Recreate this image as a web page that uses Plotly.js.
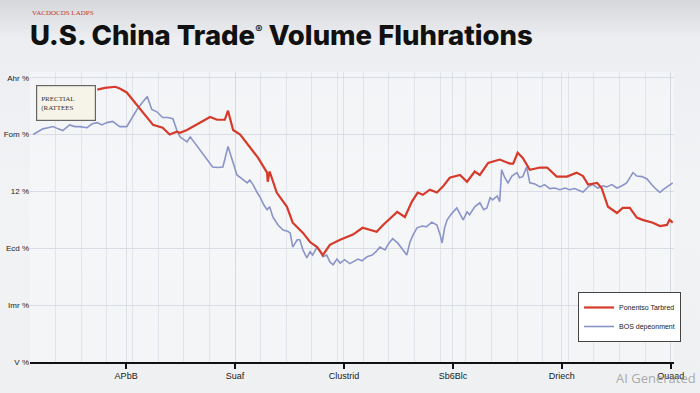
<!DOCTYPE html>
<html><head><meta charset="utf-8">
<script src="https://cdn.plot.ly/plotly-3.0.1.min.js"></script>
<style>
html,body{margin:0;padding:0;}
body{width:700px;height:393px;background:linear-gradient(180deg,#d5d7da 0%,#eceef1 10%,#f2f3f5 50%,#eef0f2 100%);overflow:hidden;}
#chart{width:700px;height:393px;}
</style></head><body><div id="chart"></div>
<script>
const tickVals = [15, 32, 49, 66, 83, 100];
const tickText = ["APbB", "Suaf", "Clustrid", "Sb6Blc", "Driech", "Ouaad"];
const yTickVals = [0, 10, 20, 30, 40, 50];
const yTickText = ["V %", "Imr %", "Ecd %", "12 %", "Fom %", "Ahr %"];

const redX = [10.5,11.7,13.3,14.0,15.1,16.4,17.9,19.2,20.7,21.8,22.9,23.4,24.5,26.5,28.1,29.2,30.4,30.9,31.7,32.8,34.3,35.6,37.0,37.1,37.4,38.5,40.1,41.0,42.6,43.7,44.8,45.7,46.8,48.4,50.4,51.9,54.1,55.1,57.3,58.5,59.6,60.5,61.3,62.4,63.5,64.4,65.5,67.1,68.2,69.4,70.2,71.5,73.3,74.9,75.4,76.1,76.9,78.0,79.6,80.7,82.2,83.8,85.3,86.3,87.1,88.5,89.2,90.2,91.6,92.5,93.6,94.7,95.6,97.2,98.3,99.4,99.8,100.3];
const redY = [47.9,48.2,48.4,48.1,47.4,45.6,43.5,41.7,41.2,40.0,40.5,40.3,40.8,42.1,43.1,42.6,42.6,44.2,40.8,40.0,37.7,35.9,33.3,31.7,33.5,29.8,27.3,24.5,22.7,21.1,20.2,18.8,20.6,21.5,22.4,23.6,22.9,24.1,26.4,25.5,28.2,29.8,29.4,30.3,29.8,30.8,32.4,32.9,31.7,33.5,32.9,35.0,35.6,34.9,34.9,36.8,35.9,33.8,34.2,34.2,32.6,32.6,33.3,32.7,31.2,31.5,30.6,27.3,26.2,27.1,27.1,25.4,25.0,24.5,23.9,24.1,25.0,24.5];

const blueX = [0.5,1.2,2.0,2.8,3.6,4.4,5.1,6.2,7.0,7.8,8.9,9.7,10.5,11.2,12.0,12.9,14.0,15.1,15.9,16.7,17.5,18.3,19.0,19.8,20.7,21.5,22.3,22.9,23.4,24.5,25.0,26.1,27.0,27.8,28.5,29.3,30.1,30.9,31.5,32.3,33.1,33.9,34.3,34.8,35.4,35.9,36.5,37.0,37.4,37.9,38.7,39.5,40.2,40.6,41.0,41.7,42.1,42.6,43.2,43.7,44.1,44.8,45.2,45.7,46.3,46.8,47.3,47.9,48.4,49.1,49.9,50.4,51.2,51.8,52.6,53.4,54.0,54.6,55.4,56.0,56.6,57.4,58.2,58.8,59.3,59.8,60.4,61.2,61.9,62.7,63.5,64.0,64.3,64.7,65.1,65.8,66.6,67.1,67.6,68.2,68.6,69.4,70.2,70.8,71.3,71.8,72.2,72.9,73.3,73.6,74.1,74.6,75.2,76.0,76.4,76.9,77.5,78.0,78.8,79.6,80.3,81.1,81.9,82.7,83.5,84.2,85.0,85.8,86.3,87.1,87.8,88.6,89.4,90.0,90.8,91.6,92.4,93.1,94.1,94.7,95.5,96.3,97.0,97.8,98.3,98.8,99.4,99.8,100.3];
const blueY = [40.0,40.5,41.0,41.2,41.4,41.0,40.7,41.7,41.4,41.4,41.2,41.9,42.1,41.7,42.1,42.3,41.4,41.4,43.0,44.4,45.6,46.7,44.4,44.0,43.0,43.0,42.8,40.8,39.6,38.7,39.6,37.9,36.4,35.2,34.3,34.2,34.3,37.9,35.9,32.9,32.2,31.5,32.0,31.2,29.9,29.0,27.6,26.8,27.3,25.5,24.1,23.2,23.0,22.7,20.2,21.5,21.5,19.7,18.3,19.4,18.8,20.2,19.7,18.5,18.8,17.6,17.1,18.1,17.4,18.0,17.3,17.6,18.1,17.8,18.5,18.8,19.4,20.2,19.7,20.9,21.7,20.9,19.7,18.8,21.1,22.4,23.6,23.9,23.8,24.6,24.1,22.4,20.9,23.6,25.0,26.1,27.1,25.9,25.0,26.4,25.9,27.3,28.0,26.8,27.1,28.9,28.5,29.2,28.2,33.8,32.4,31.5,32.7,33.3,32.4,32.6,34.3,31.5,31.3,30.8,31.2,30.5,30.6,30.3,30.6,30.3,30.5,30.1,29.9,30.8,31.2,30.6,31.0,30.8,31.2,30.6,31.0,31.5,33.3,32.7,32.6,32.2,31.2,30.3,29.8,30.3,30.8,31.2,31.5];

const traces = [
  {x: blueX, y: blueY, type: 'scatter', mode: 'lines', name: 'BOS depeonment',
   line: {color: '#8a94c8', width: 1.6}},
  {x: redX, y: redY, type: 'scatter', mode: 'lines', name: 'Ponentso Tarbred',
   line: {color: '#d63a2a', width: 2.2}}
];

const layout = {
  width: 700, height: 393,
  paper_bgcolor: 'rgba(0,0,0,0)',
  plot_bgcolor: 'rgba(248,249,251,0.5)',
  margin: {l: 30, r: 26, t: 72, b: 31},
  showlegend: true,
  legend: {x: 0.851, y: 0.069, xanchor: 'left', yanchor: 'bottom', bgcolor: '#ffffff',
           bordercolor: '#444', borderwidth: 1, traceorder: 'reversed',
           font: {family: 'Liberation Sans Narrow, Arial Narrow, sans-serif', size: 7, color: '#222'},
           itemwidth: 30, tracegroupgap: 0},
  xaxis: {range: [0, 100.5], tickmode: 'array', tickvals: tickVals, ticktext: tickText,
          showgrid: true, gridcolor: 'rgba(205,210,220,0.6)', zeroline: false,
          showline: true, linecolor: '#111', linewidth: 1.5, ticks: 'outside', ticklen: 5,
          tickcolor: '#111', tickwidth: 1.5,
          tickfont: {family: 'Liberation Sans Narrow, Arial Narrow, sans-serif', size: 9, color: '#1a1a1a'},
          minor: {dtick: 4, tick0: 0, showgrid: true, gridcolor: 'rgba(210,214,224,0.55)', gridwidth: 1}},
  yaxis: {range: [0, 51], tickmode: 'array', tickvals: yTickVals, ticktext: yTickText,
          showgrid: true, gridcolor: 'rgba(205,210,220,0.7)', zeroline: false, showline: false,
          ticks: '', ticklen: 0,
          tickfont: {family: 'Liberation Sans Narrow, Arial Narrow, sans-serif', size: 8, color: '#222'}},
  annotations: [
    {xref: 'paper', yref: 'paper', x: -0.003, y: 1.063, xanchor: 'left', yanchor: 'bottom',
     text: 'U.S. China Trade<sup><span style="font-size:11px">®</span></sup> Volume Fluhrations', showarrow: false,
     font: {family: 'Inter, Lato, sans-serif', size: 27.5, weight: 800, color: '#111'}},
    {xref: 'paper', yref: 'paper', x: 0.0, y: 1.225, xanchor: 'left', yanchor: 'top',
     text: 'VACDOCDS LADPS', showarrow: false,
     font: {family: 'Liberation Serif, serif', size: 7, color: '#c0392b'}},
    {x: 5.6, y: 45.6, xref: 'x', yref: 'y', text: 'PRECTIAL<br>(RATTEES', showarrow: false,
     align: 'left', bgcolor: '#f6f3e8', bordercolor: '#666', borderwidth: 1.2, borderpad: 4,
     font: {family: 'Liberation Serif, serif', size: 7, color: '#333'}, width: 50, height: 26},
    {xref: 'paper', yref: 'paper', x: 1.037, y: -0.055, xanchor: 'right', yanchor: 'middle',
     text: 'AI Generated', showarrow: false,
     font: {family: 'Open Sans, sans-serif', size: 13, color: 'rgba(150,150,150,0.8)'}}
  ]
};
Plotly.newPlot('chart', traces, layout, {staticPlot: true, displayModeBar: false});
</script></body></html>
